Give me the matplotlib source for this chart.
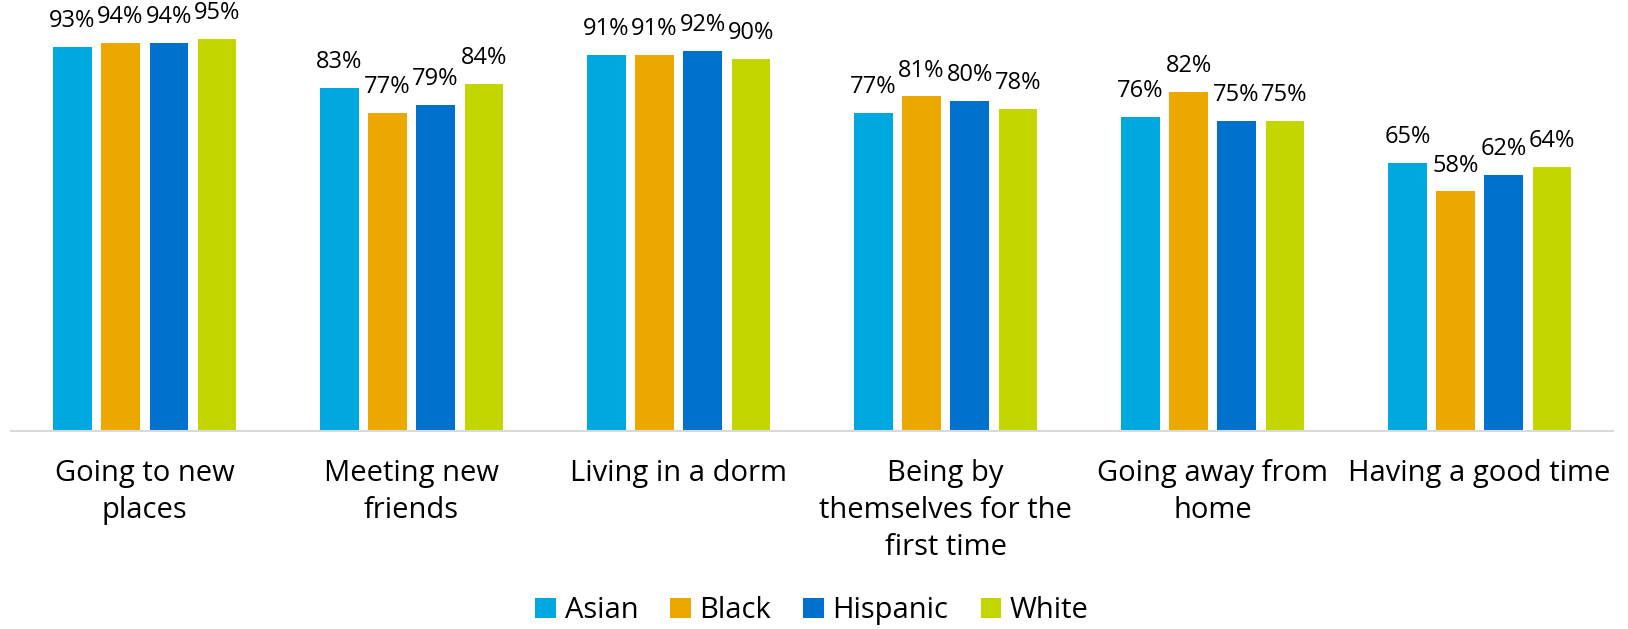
import numpy as np
import matplotlib
matplotlib.use("Agg")
import matplotlib.pyplot as plt

plt.rcParams['font.family'] = ['Open Sans', 'DejaVu Sans']

# Catégories et séries
categories = [
    "Going to new\nplaces",
    "Meeting new\nfriends",
    "Living in a dorm",
    "Being by\nthemselves for the\nfirst time",
    "Going away from\nhome",
    "Having a good time",
]
asian = [93, 83, 91, 77, 76, 65]
black = [94, 77, 91, 81, 82, 58]
hispanic = [94, 79, 92, 80, 75, 62]
white = [95, 84, 90, 78, 75, 64]

series_names = ["Asian", "Black", "Hispanic", "White"]
couleurs = ["#00A8E0", "#EDA800", "#0072CE", "#C4D600"]

fig = plt.figure(figsize=(16.28, 6.29), dpi=100)
ax = fig.add_axes([0.0068, 0.3148, 0.9840, 0.6566])

x = np.arange(len(categories))
largeur = 0.143
pas = 0.18

for i, (nom, valeurs) in enumerate(zip(series_names, [asian, black, hispanic, white])):
    decalage = (i - 1.5) * pas
    barres = ax.bar(x + decalage, np.array(valeurs) / 100, width=largeur,
                    color=couleurs[i], label=nom, zorder=2)
    for b, v in zip(barres, valeurs):
        ax.annotate(f"{v}%", (b.get_x() + b.get_width() / 2, b.get_height()),
                    xytext=(0, 10), textcoords="offset points",
                    ha="center", va="bottom", fontsize=17, color="#000000")

ax.set_xlim(-0.5, len(categories) - 0.5)
ax.set_ylim(0, 1.0)
ax.set_yticks([])
ax.set_xticks(x)
ax.set_xticklabels(categories, fontsize=21, linespacing=1.38)
ax.tick_params(axis="x", length=0, pad=20)

for cote in ["top", "right", "left"]:
    ax.spines[cote].set_visible(False)
ax.spines["bottom"].set_color("#D9D9D9")
ax.spines["bottom"].set_linewidth(1.5)

ax.legend(loc="center", bbox_to_anchor=(0.5, -0.435), ncol=4, frameon=False,
          fontsize=21, handlelength=0.7, handleheight=0.7,
          handletextpad=0.3, columnspacing=1.1)

fig.savefig("out.png", dpi=100)
